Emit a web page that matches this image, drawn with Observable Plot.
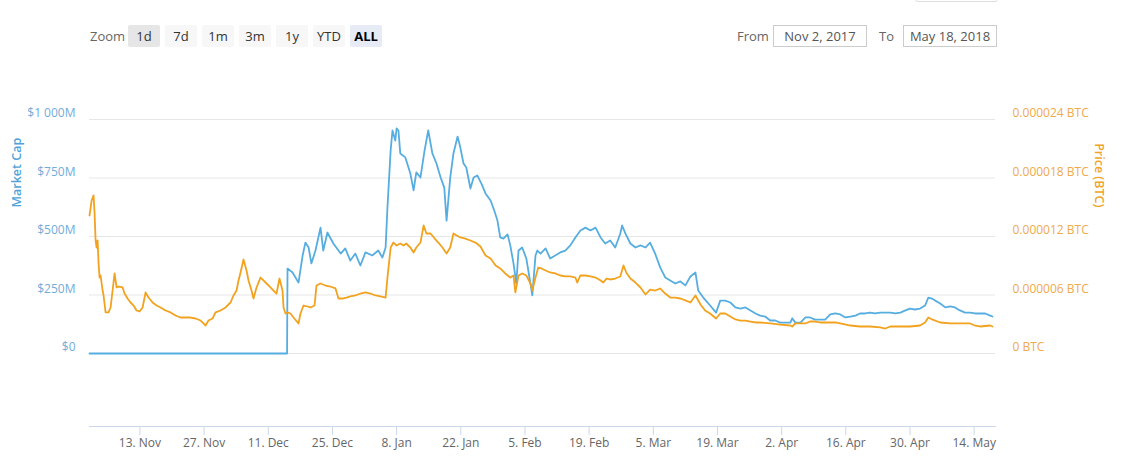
<!DOCTYPE html>
<html>
<head>
<meta charset="utf-8">
<script src="https://cdn.jsdelivr.net/npm/d3@7"></script>
<script src="https://cdn.jsdelivr.net/npm/@observablehq/plot@0.6"></script>
<style>
  html, body { margin: 0; padding: 0; background: #fff; overflow: hidden; }
  body { width: 1138px; height: 467px; position: relative; font-family: "Open Sans", "Noto Sans", sans-serif; }
  #toolbar { position: relative; height: 60px; }
  #toolbar .lbl { position: absolute; top: 25px; height: 22px; line-height: 22px; font-size: 13px; color: #666; }
  #toolbar .btn { position: absolute; top: 25px; width: 32px; height: 22px; line-height: 22px; text-align: center; font-size: 13px; color: #333; background: #f7f7f7; border-radius: 2px; }
  #toolbar .btn.hover { background: #e6e6e6; }
  #toolbar .btn.sel { background: #e6ebf5; font-weight: 700; color: #000; }
  #toolbar .box { position: absolute; top: 25px; height: 20px; line-height: 20px; border: 1px solid #ccc; text-align: center; font-size: 13px; color: #555; }
  #toolbar .ghost { position: absolute; left: 915px; top: -22px; width: 81px; height: 22px; border: 1px solid #ddd; border-radius: 3px; }
  #chart svg { display: block; }
</style>
</head>
<body>
<div id="toolbar"></div>
<div id="chart"></div>
<script>
// ---------- data ----------
const startDate = "2017-11-02";
const endDate = "2018-05-18";
const rangeButtons = ["1d", "7d", "1m", "3m", "1y", "YTD", "ALL"];

const capTicks = [0, 250, 500, 750, 1000];                     // $M
const capLabels = ["$0", "$250M", "$500M", "$750M", "$1 000M"];
const priceTicks = [0, 6, 12, 18, 24];                          // 1e-6 BTC
const priceLabels = ["0 BTC", "0.000006 BTC", "0.000012 BTC", "0.000018 BTC", "0.000024 BTC"];
const dateTicks = ["2017-11-13", "2017-11-27", "2017-12-11", "2017-12-25", "2018-01-08", "2018-01-22", "2018-02-05",
                   "2018-02-19", "2018-03-05", "2018-03-19", "2018-04-02", "2018-04-16", "2018-04-30", "2018-05-14"];
const dateLabels = ["13. Nov", "27. Nov", "11. Dec", "25. Dec", "8. Jan", "22. Jan", "5. Feb",
                    "19. Feb", "5. Mar", "19. Mar", "2. Apr", "16. Apr", "30. Apr", "14. May"];
const yFloor = -312; // lower end of the value axis ($M)

// Market cap ($M), days since Nov 2, 2017
const capDays = [0, 43.1, 43.2, 44.3, 45.6, 46.5, 47.1, 47.8, 48.4, 49.3, 50.4, 51.0, 51.9, 53.2, 54.8, 55.8, 56.9, 58.0, 59.1, 60.2, 61.7, 63.0,
  63.9, 64.6, 65.0, 65.7, 66.1, 66.7, 67.0, 67.4, 67.8, 68.9, 70.0, 70.7, 71.3, 72.2, 73.1, 73.9, 74.8, 75.7, 76.6, 77.4,
  77.9, 78.7, 79.4, 80.3, 80.9, 81.6, 82.2, 83.1, 83.8, 84.6, 85.5, 86.4, 87.5, 88.3, 89.0, 89.6, 90.3, 91.2, 91.8, 92.5,
  93.1, 93.6, 94.4, 95.3, 96.2, 96.6, 97.3, 97.7, 98.4, 99.5, 100.5, 101.6, 102.7, 103.8, 104.9, 106.0, 107.1, 108.2, 109.3, 110.4,
  111.5, 112.5, 113.6, 114.7, 115.8, 116.2, 116.9, 118.0, 119.1, 120.2, 121.3, 122.3, 123.4, 124.5, 125.6, 126.7, 127.8, 128.9, 130.0, 131.1,
  132.2, 132.8, 133.9, 135.4, 136.7, 137.6, 138.7, 139.8, 140.9, 142.0, 143.1, 144.2, 145.3, 146.3, 147.4, 148.5, 149.6, 150.7, 151.8, 152.9,
  153.3, 154.0, 155.1, 156.2, 157.2, 158.3, 159.4, 160.5, 161.6, 162.7, 163.8, 164.9, 166.0, 167.1, 168.1, 169.2, 170.3, 171.4, 172.5, 173.6,
  174.7, 175.8, 176.9, 178.0, 179.0, 180.1, 181.2, 182.3, 183.0, 183.8, 184.5, 185.6, 186.7, 187.8, 188.8, 189.9, 191.0, 192.1, 193.2, 194.3,
  195.4, 196.5, 197.0];
const capValues = [0, 0, 363, 346, 303, 419, 474, 453, 385, 440, 538, 440, 517, 470, 427, 449, 397, 427, 376, 432, 419, 440,
  410, 453, 624, 868, 953, 910, 962, 953, 855, 838, 769, 697, 774, 752, 868, 953, 855, 812, 752, 709,
  568, 752, 855, 927, 880, 812, 795, 705, 752, 761, 726, 684, 654, 611, 568, 496, 491, 509, 462, 385,
  299, 440, 453, 406, 299, 248, 419, 440, 427, 449, 406, 419, 432, 440, 462, 496, 526, 538, 526, 538,
  496, 470, 483, 453, 513, 547, 513, 470, 453, 462, 453, 474, 427, 368, 325, 312, 299, 308, 291, 329,
  346, 269, 239, 205, 175, 226, 226, 218, 197, 192, 197, 184, 171, 162, 158, 141, 141, 132, 132, 132,
  150, 132, 132, 154, 154, 145, 145, 145, 167, 171, 167, 154, 158, 162, 171, 171, 175, 171, 175, 175,
  175, 171, 175, 184, 192, 188, 192, 205, 239, 235, 226, 214, 197, 201, 197, 184, 175, 175, 171, 171,
  171, 162, 158];

// Price (1e-6 BTC), days since Nov 2, 2017
const priceDays = [0, 0.46, 0.89, 1.11, 1.33, 1.55, 1.77, 1.98, 2.2, 2.42, 2.86, 3.07, 3.51, 4.16, 4.6, 5.04, 5.47, 5.91, 6.35, 7.22,
  7.65, 8.31, 8.96, 9.62, 10.27, 10.92, 11.58, 12.23, 12.89, 13.76, 14.63, 15.5, 16.59, 17.68, 18.77, 19.87, 20.96, 22.05, 23.14, 24.23,
  24.88, 25.32, 25.97, 26.84, 27.5, 28.59, 29.68, 30.77, 31.42, 32.08, 32.51, 32.95, 33.6, 34.26, 34.69, 35.35, 35.78, 36.44, 37.31, 37.96,
  38.62, 39.49, 40.14, 40.8, 41.45, 42.11, 42.33, 42.76, 43.2, 43.85, 44.51, 45.6, 46.03, 46.69, 47.56, 48.21, 49.09, 49.52, 50.39, 51.48,
  52.57, 53.67, 54.32, 55.19, 56.06, 56.9, 58.0, 59.1, 60.2, 61.3, 62.4, 63.5, 64.6, 65.0, 65.7, 66.3, 67.0, 67.8, 68.5, 69.1,
  70.0, 70.7, 71.3, 72.2, 72.9, 73.5, 74.4, 75.3, 76.1, 77.0, 77.9, 78.7, 79.4, 80.1, 80.9, 82.0, 83.1, 84.2, 85.3, 86.4,
  87.5, 88.6, 89.6, 90.7, 91.8, 92.5, 92.9, 93.6, 94.4, 95.3, 96.2, 96.6, 97.3, 97.9, 98.6, 99.5, 100.5, 101.6, 102.7, 103.8,
  104.9, 106.0, 106.4, 107.1, 108.2, 109.3, 110.4, 111.5, 112.1, 112.8, 113.6, 114.7, 115.8, 116.5, 117.1, 118.0, 119.1, 120.2, 121.3, 122.3,
  123.4, 124.5, 125.6, 126.7, 127.8, 128.9, 130.0, 131.1, 132.2, 133.3, 134.3, 135.4, 136.7, 137.6, 138.7, 139.8, 140.9, 142.0, 143.1, 144.2,
  145.3, 146.3, 148.5, 150.7, 152.9, 153.3, 154.0, 155.1, 156.2, 157.2, 158.3, 159.4, 161.6, 162.7, 163.8, 166.0, 168.1, 170.3, 172.5, 173.6,
  174.7, 176.9, 179.0, 181.2, 182.3, 183.0, 183.8, 185.6, 187.8, 189.9, 192.1, 193.2, 194.3, 196.5, 197.0];
const priceValues = [14.15, 15.69, 16.21, 14.36, 11.59, 10.87, 11.59, 9.23, 7.79, 8.00, 6.46, 5.95, 4.21, 4.21, 4.72, 6.46, 8.21, 6.77, 6.87, 6.77,
  6.15, 5.64, 5.23, 4.92, 4.41, 4.31, 4.72, 6.26, 5.74, 5.23, 4.92, 4.72, 4.41, 4.21, 3.90, 3.69, 3.69, 3.69, 3.59, 3.38,
  3.08, 2.87, 3.38, 3.59, 4.21, 4.41, 4.72, 5.23, 5.95, 6.46, 7.49, 8.31, 9.64, 8.51, 7.49, 6.46, 5.64, 6.77, 7.79, 7.49,
  7.18, 6.77, 6.46, 6.15, 7.69, 6.46, 4.72, 4.10, 4.21, 4.10, 3.69, 3.08, 4.10, 4.92, 4.82, 4.72, 4.92, 6.97, 7.18, 6.97,
  6.87, 6.67, 5.64, 5.64, 5.74, 5.85, 5.95, 6.15, 6.26, 6.15, 5.95, 5.85, 5.74, 7.79, 10.87, 11.38, 11.08, 11.28, 11.08, 11.28,
  10.87, 10.36, 10.87, 11.38, 13.13, 12.31, 12.31, 11.79, 11.38, 10.87, 10.26, 10.87, 12.31, 12.10, 11.90, 11.79, 11.59, 11.38, 10.97, 10.05,
  9.74, 9.03, 8.72, 8.21, 7.79, 8.00, 6.26, 8.00, 8.21, 8.00, 7.18, 6.46, 7.79, 8.82, 8.72, 8.51, 8.31, 8.21, 8.00, 7.90,
  7.90, 7.79, 7.28, 8.00, 8.00, 7.90, 7.79, 7.49, 7.28, 7.69, 7.59, 7.69, 7.90, 9.03, 8.31, 7.69, 7.28, 6.77, 6.05, 6.56,
  6.46, 6.67, 6.15, 5.74, 5.74, 5.64, 5.44, 5.23, 5.95, 5.03, 4.41, 4.10, 3.59, 4.10, 4.10, 3.79, 3.49, 3.38, 3.38, 3.28,
  3.18, 3.18, 3.08, 2.97, 2.87, 2.77, 3.08, 3.08, 3.08, 3.28, 3.28, 3.18, 3.18, 3.18, 3.08, 2.87, 2.77, 2.77, 2.67, 2.56,
  2.77, 2.77, 2.77, 2.87, 3.18, 3.69, 3.49, 3.18, 3.08, 3.08, 3.08, 2.87, 2.77, 2.87, 2.77];

// ---------- toolbar ----------
const tb = document.getElementById("toolbar");
function el(cls, text, left, width) {
  const d = document.createElement("div");
  d.className = cls;
  d.textContent = text;
  d.style.left = left + "px";
  if (width != null) d.style.width = width + "px";
  tb.appendChild(d);
  return d;
}
el("ghost", "", 915, null);
el("lbl", "Zoom", 90, null);
rangeButtons.forEach((b, i) => {
  const cls = "btn" + (b === "ALL" ? " sel" : (i === 0 ? " hover" : ""));
  el(cls, b, 128 + 37 * i, 32);
});
const fmtLong = d3.utcFormat("%b %-d, %Y");
el("lbl", "From", 737, null);
el("box", fmtLong(new Date(startDate)), 773, 92);
el("lbl", "To", 879, null);
el("box", fmtLong(new Date(endDate)), 903, 92);

// ---------- chart ----------
const t0 = new Date(startDate).getTime();
const toDate = d => new Date(t0 + d * 864e5);
const capData = capDays.map((d, i) => ({date: toDate(d), value: capValues[i]}));
const k = capTicks[capTicks.length - 1] / priceTicks[priceTicks.length - 1]; // dual-axis factor
const priceData = priceDays.map((d, i) => ({date: toDate(d), value: priceValues[i] * k}));

const dateLabelMap = new Map(dateTicks.map((d, i) => [new Date(d).getTime(), dateLabels[i]]));
const capLabelMap = new Map(capTicks.map((v, i) => [v, capLabels[i]]));
const priceLabelOf = v => {
  const i = priceTicks.findIndex(p => Math.abs(p * k - v) < 1e-6);
  return i >= 0 ? priceLabels[i] : "";
};

const blue = "#56ade0";
const orange = "#f2a21e";

const chart = Plot.plot({
  width: 1138,
  height: 407,
  marginLeft: 89,
  marginRight: 146,
  marginTop: 59,
  marginBottom: 41,
  style: {fontFamily: "'Open Sans', 'Noto Sans', sans-serif", fontSize: "12px", background: "#fff"},
  x: {type: "utc", domain: [new Date(startDate), new Date(endDate)]},
  y: {domain: [yFloor, capTicks[capTicks.length - 1]]},
  marks: [
    Plot.ruleY(capTicks, {stroke: "#e6e6e6", strokeWidth: 1, insetRight: -3}),
    Plot.frame({anchor: "bottom", stroke: "#ccd6eb", insetRight: -3}),
    Plot.axisX({ticks: dateTicks.map(d => new Date(d)), tickSize: 9, text: null, label: null, stroke: "#ccd6eb", strokeOpacity: 1}),
    Plot.axisX({ticks: dateTicks.map(d => new Date(d)), tickSize: 0, tickPadding: 12, label: null,
      tickFormat: d => dateLabelMap.get(+d), fill: "#666", fontSize: 12}),
    Plot.axisY({anchor: "left", ticks: capTicks, tickSize: 0, tickPadding: 14, dy: -6, label: null,
      tickFormat: v => capLabelMap.get(v), fill: "#72acd8", fontSize: 12}),
    Plot.axisY({anchor: "right", ticks: priceTicks.map(p => p * k), tickSize: 0, tickPadding: 20, dy: -6, label: null,
      tickFormat: priceLabelOf, fill: "#eeaa4c", fontSize: 12}),
    Plot.text(["Market Cap"], {text: d => d, frameAnchor: "top-left", dx: -77, dy: 88, rotate: -90,
      fill: "#4fa3d8", fontWeight: 600, fontSize: 12.5}),
    Plot.text(["Price (BTC)"], {text: d => d, frameAnchor: "top-right", dx: 111, dy: 88, rotate: 90,
      fill: "#efa42a", fontWeight: 600, fontSize: 12.5}),
    Plot.line(capData, {x: "date", y: "value", stroke: blue, strokeWidth: 1.8}),
    Plot.line(priceData, {x: "date", y: "value", stroke: orange, strokeWidth: 1.8})
  ]
});
document.getElementById("chart").appendChild(chart);
</script>
</body>
</html>
